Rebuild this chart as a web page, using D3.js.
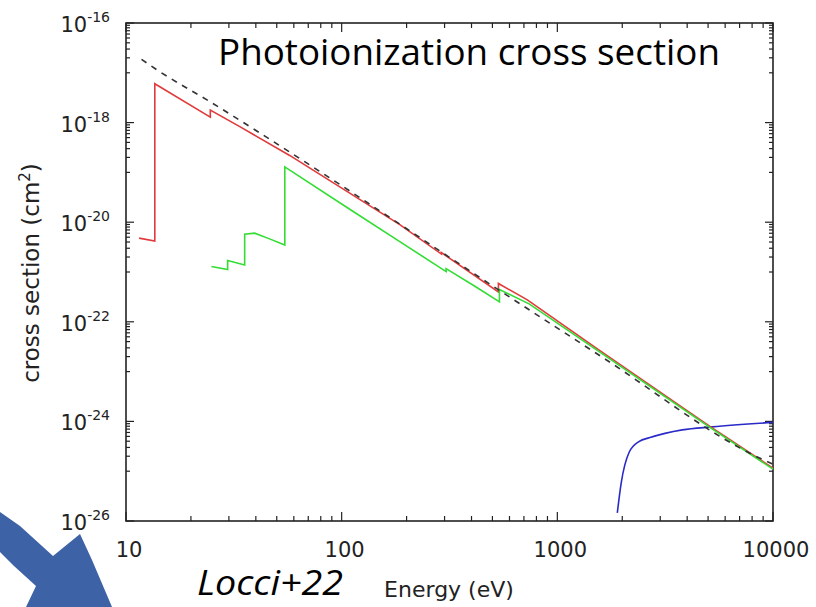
<!DOCTYPE html>
<html>
<head>
<meta charset="utf-8">
<script src="https://cdn.jsdelivr.net/npm/d3@7"></script>
<style>
  body { margin: 0; background: #fff; }
</style>
</head>
<body>
<script>
var w = 816;
var h = 607;

// energies (eV) and cross sections (cm^2)
var redE = [11.5, 13.6, 13.6, 24.6, 24.6, 33.7, 57.4, 186, 290, 290, 533, 533, 726, 1563, 5058, 10000];
var redS = [4.79e-21, 4.17e-21, 6.03e-18, 1.29e-18, 1.78e-18, 8.32e-19, 2.19e-19, 8.91e-21, 2.29e-21, 2.45e-21, 3.98e-22, 5.89e-22, 2.75e-22, 2.69e-23, 8.13e-25, 1.15e-25];

var greenE = [24.9, 29.6, 29.6, 35.5, 35.5, 39.5, 46, 54.5, 54.5, 109, 186, 305, 305, 420, 539, 539, 740, 1563, 5058, 10000];
var greenS = [1.29e-21, 1.12e-21, 1.70e-21, 1.38e-21, 5.75e-21, 6.03e-21, 4.68e-21, 3.47e-21, 1.29e-19, 1.82e-20, 4.07e-21, 1.02e-21, 1.17e-21, 5.01e-22, 2.51e-22, 4.47e-22, 2.29e-22, 2.51e-23, 7.76e-25, 1.10e-25];

var dashE = [11.8, 13.9, 24.5, 68.8, 580, 1615, 8610, 10000];
var dashS = [1.86e-17, 1.15e-17, 2.63e-18, 1.55e-19, 3.47e-22, 1.95e-23, 1.86e-25, 1.38e-25];

var blueE = [1897, 1977, 2153, 2400, 2666, 3795, 5220, 10000];
var blueS = [1.45e-26, 5.75e-26, 2.40e-25, 3.98e-25, 4.68e-25, 6.76e-25, 7.76e-25, 9.55e-25];

var xMajor = [10, 100, 1000, 10000];
var yMajor = [1e-16, 1e-18, 1e-20, 1e-22, 1e-24, 1e-26];
var yExp = ["-16", "-18", "-20", "-22", "-24", "-26"];

var pLeft = 126, pRight = 773, pTop = 23, pBottom = 521;

var x = d3.scaleLog().domain([10, 10000]).range([pLeft, pRight]);
var y = d3.scaleLog().domain([1e-26, 1e-16]).range([pBottom, pTop]);

var svg = d3.select("body")
    .append("svg")
    .attr("width", w)
    .attr("height", h);

// logo splash in the corner
svg.append("path")
    .attr("d", "M0,512 L20,526 L53,556 L80,534 L92,560 L112,607 L26,607 L36,586 L14,566 L0,552 Z")
    .attr("fill", "#3d62a6");

// minor ticks
var xMinor = [];
[10, 100, 1000].forEach(function (d) {
    for (var k = 2; k <= 9; k++) xMinor.push(d * k);
});
var yMinor = [];
[1e-26, 1e-24, 1e-22, 1e-20, 1e-18].forEach(function (d) {
    for (var k = 1; k <= 9; k++) yMinor.push(d * 10 * k);
});

var ticks = svg.append("g")
    .attr("stroke", "#222")
    .attr("stroke-width", 1.2);

function xTick(v, len) {
    ticks.append("line").attr("x1", x(v)).attr("x2", x(v)).attr("y1", pBottom).attr("y2", pBottom - len);
    ticks.append("line").attr("x1", x(v)).attr("x2", x(v)).attr("y1", pTop).attr("y2", pTop + len);
}
function yTick(v, len) {
    ticks.append("line").attr("y1", y(v)).attr("y2", y(v)).attr("x1", pLeft).attr("x2", pLeft + len);
    ticks.append("line").attr("y1", y(v)).attr("y2", y(v)).attr("x1", pRight).attr("x2", pRight - len);
}
xMajor.forEach(function (v) { xTick(v, 9); });
xMinor.forEach(function (v) { xTick(v, 5); });
yMajor.forEach(function (v) { yTick(v, 8); });
yMinor.forEach(function (v) { yTick(v, 4); });

svg.append("rect")
    .attr("x", pLeft)
    .attr("y", pTop)
    .attr("width", pRight - pLeft)
    .attr("height", pBottom - pTop)
    .attr("fill", "none")
    .attr("stroke", "#222")
    .attr("stroke-width", 1.6);

// curves
var line = d3.line()
    .x(function (d) { return x(d[0]); })
    .y(function (d) { return y(d[1]); });

var smooth = d3.line()
    .x(function (d) { return x(d[0]); })
    .y(function (d) { return y(d[1]); })
    .curve(d3.curveMonotoneX);

svg.append("path")
    .datum(d3.zip(blueE, blueS))
    .attr("d", smooth)
    .attr("fill", "none")
    .attr("stroke", "#2a2ac8")
    .attr("stroke-width", 1.6);

svg.append("path")
    .datum(d3.zip(redE, redS))
    .attr("d", line)
    .attr("fill", "none")
    .attr("stroke", "#e03a3a")
    .attr("stroke-width", 1.6);

svg.append("path")
    .datum(d3.zip(greenE, greenS))
    .attr("d", line)
    .attr("fill", "none")
    .attr("stroke", "#33dd33")
    .attr("stroke-width", 1.6);

svg.append("path")
    .datum(d3.zip(dashE, dashS))
    .attr("d", smooth)
    .attr("fill", "none")
    .attr("stroke", "#333")
    .attr("stroke-width", 1.6)
    .attr("stroke-dasharray", "6,6");

// tick labels
svg.selectAll("text.xl")
    .data(xMajor)
    .enter()
    .append("text")
    .attr("class", "xl")
    .attr("x", function (d) { return x(d) + 3; })
    .attr("y", 557)
    .attr("text-anchor", "middle")
    .style("font-family", "DejaVu Sans")
    .style("font-size", "21px")
    .style("fill", "#222")
    .text(function (d) { return d; });

var yl = svg.selectAll("text.yl")
    .data(yMajor)
    .enter()
    .append("text")
    .attr("class", "yl")
    .attr("x", 110)
    .attr("y", function (d) { return y(d) + 9; })
    .attr("text-anchor", "end")
    .style("font-family", "DejaVu Sans")
    .style("font-size", "21px")
    .style("fill", "#222");
yl.append("tspan").text("10");
yl.append("tspan")
    .attr("dy", -10)
    .style("font-size", "14px")
    .text(function (d, i) { return yExp[i]; });

// axis titles
svg.append("text")
    .attr("x", 449)
    .attr("y", 597)
    .attr("text-anchor", "middle")
    .style("font-family", "DejaVu Sans")
    .style("font-size", "22px")
    .style("fill", "#222")
    .text("Energy (eV)");

var yt = svg.append("text")
    .attr("transform", "translate(39,273) rotate(-90)")
    .attr("text-anchor", "middle")
    .style("font-family", "DejaVu Sans")
    .style("font-size", "23px")
    .style("fill", "#222");
yt.append("tspan").text("cross section (cm");
yt.append("tspan").attr("dy", -9).style("font-size", "15px").text("2");
yt.append("tspan").attr("dy", 9).text(")");

svg.append("text")
    .attr("x", 218)
    .attr("y", 65)
    .attr("textLength", 502)
    .attr("lengthAdjust", "spacingAndGlyphs")
    .style("font-family", "Open Sans")
    .style("font-size", "36px")
    .style("fill", "#000")
    .text("Photoionization cross section");

svg.append("text")
    .attr("x", 197)
    .attr("y", 595)
    .attr("textLength", 146)
    .attr("lengthAdjust", "spacingAndGlyphs")
    .style("font-family", "Open Sans")
    .style("font-style", "italic")
    .style("font-size", "34px")
    .style("fill", "#000")
    .text("Locci+22");
</script>
</body>
</html>
